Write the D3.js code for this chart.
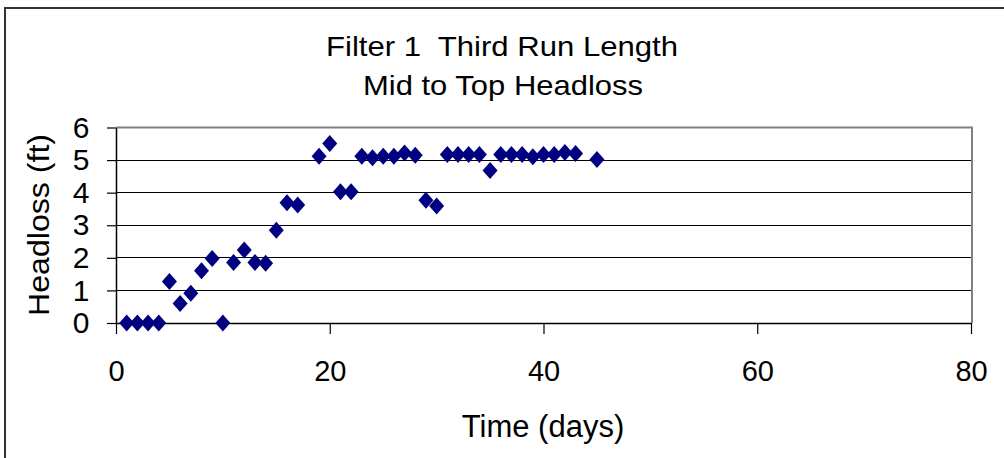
<!DOCTYPE html>
<html><head><meta charset="utf-8">
<script src="https://cdn.jsdelivr.net/npm/d3@7"></script>
<style>body{margin:0;background:#fff;} svg{display:block;font-family:"Liberation Sans",Arial,sans-serif;} text{white-space:pre;}</style>
</head><body>
<script>
const days = [1,2,3,4,5,6,7,8,9,10,11,12,13,14,15,16,17,19,20,21,22,23,24,25,26,27,28,29,30,31,32,33,34,35,36,37,38,39,40,41,42,43,45];
const headloss = [0,0,0,0,1.27,0.6,0.91,1.6,1.98,0,1.86,2.24,1.86,1.83,2.85,3.69,3.62,5.12,5.51,4.03,4.03,5.12,5.07,5.12,5.12,5.22,5.15,3.77,3.59,5.17,5.17,5.17,5.17,4.68,5.17,5.17,5.17,5.1,5.17,5.17,5.23,5.2,5.02];
const xTicks = [0,20,40,60,80];
const yTicks = [0,1,2,3,4,5,6];
const titleLines = ["Filter 1  Third Run Length","Mid to Top Headloss"];

const W=1004,H=458;
const svg=d3.select("body").append("svg").attr("width",W).attr("height",H);
svg.append("rect").attr("x",0).attr("y",0).attr("width",W).attr("height",H).attr("fill","#fff");
svg.append("path").attr("d","M5,458 V8 H1004").attr("fill","none").attr("stroke","#333").attr("stroke-width",2);

const x=d3.scaleLinear().domain([0,80]).range([116,971]);
const y=d3.scaleLinear().domain([0,6]).range([323,127.5]);

svg.append("g").selectAll("line").data(yTicks.filter(d=>d>0&&d<6)).join("line")
  .attr("x1",x(0)).attr("x2",x(80)).attr("y1",d=>y(d)).attr("y2",d=>y(d))
  .attr("stroke","#000").attr("stroke-width",1).attr("shape-rendering","crispEdges");
svg.append("path").attr("d",`M${x(0)},${y(6)} H${x(80)+1} V${y(0)}`).attr("fill","none").attr("stroke","#808080").attr("stroke-width",2);

const gx=svg.append("g").attr("transform",`translate(0,${y(0)})`)
  .call(d3.axisBottom(x).tickValues(xTicks).tickFormat(d3.format("d")).tickSize(11).tickPadding(26).tickSizeOuter(0));
const gy=svg.append("g").attr("transform",`translate(${x(0)},0)`)
  .call(d3.axisLeft(y).tickValues(yTicks).tickFormat(d3.format("d")).tickSize(9).tickPadding(26).tickSizeOuter(0));
[gx,gy].forEach(g=>{
  g.select(".domain").attr("stroke","#000").attr("stroke-width",1.5);
  g.selectAll(".tick line").attr("stroke","#000").attr("stroke-width",1.2);
  g.selectAll(".tick text").attr("fill","#000").style("font-family",'"Liberation Sans",Arial,sans-serif').style("font-size","29px");
});
gy.selectAll(".tick text").attr("text-anchor","middle").attr("x",-35).style("font-size","30px");

const diamond="M0,-8.5 L7.5,0 L0,8.5 L-7.5,0 Z";
svg.append("g").selectAll("path").data(days.map((d,i)=>[d,headloss[i]])).join("path")
  .attr("d",diamond).attr("transform",d=>`translate(${x(d[0])},${y(d[1])})`)
  .attr("fill","#000080");

svg.append("text").attr("x",502).attr("y",56).attr("text-anchor","middle").style("font-size","28px")
  .attr("textLength",352).attr("lengthAdjust","spacingAndGlyphs").text(titleLines[0]);
svg.append("text").attr("x",503).attr("y",95).attr("text-anchor","middle").style("font-size","28px")
  .attr("textLength",280).attr("lengthAdjust","spacingAndGlyphs").text(titleLines[1]);
svg.append("text").attr("x",543).attr("y",437).attr("text-anchor","middle").style("font-size","31px").text("Time (days)");
svg.append("text").attr("transform","translate(49,225) rotate(-90)").attr("text-anchor","middle").style("font-size","29px")
  .attr("textLength",182).attr("lengthAdjust","spacingAndGlyphs").text("Headloss (ft)");
</script>
</body></html>
